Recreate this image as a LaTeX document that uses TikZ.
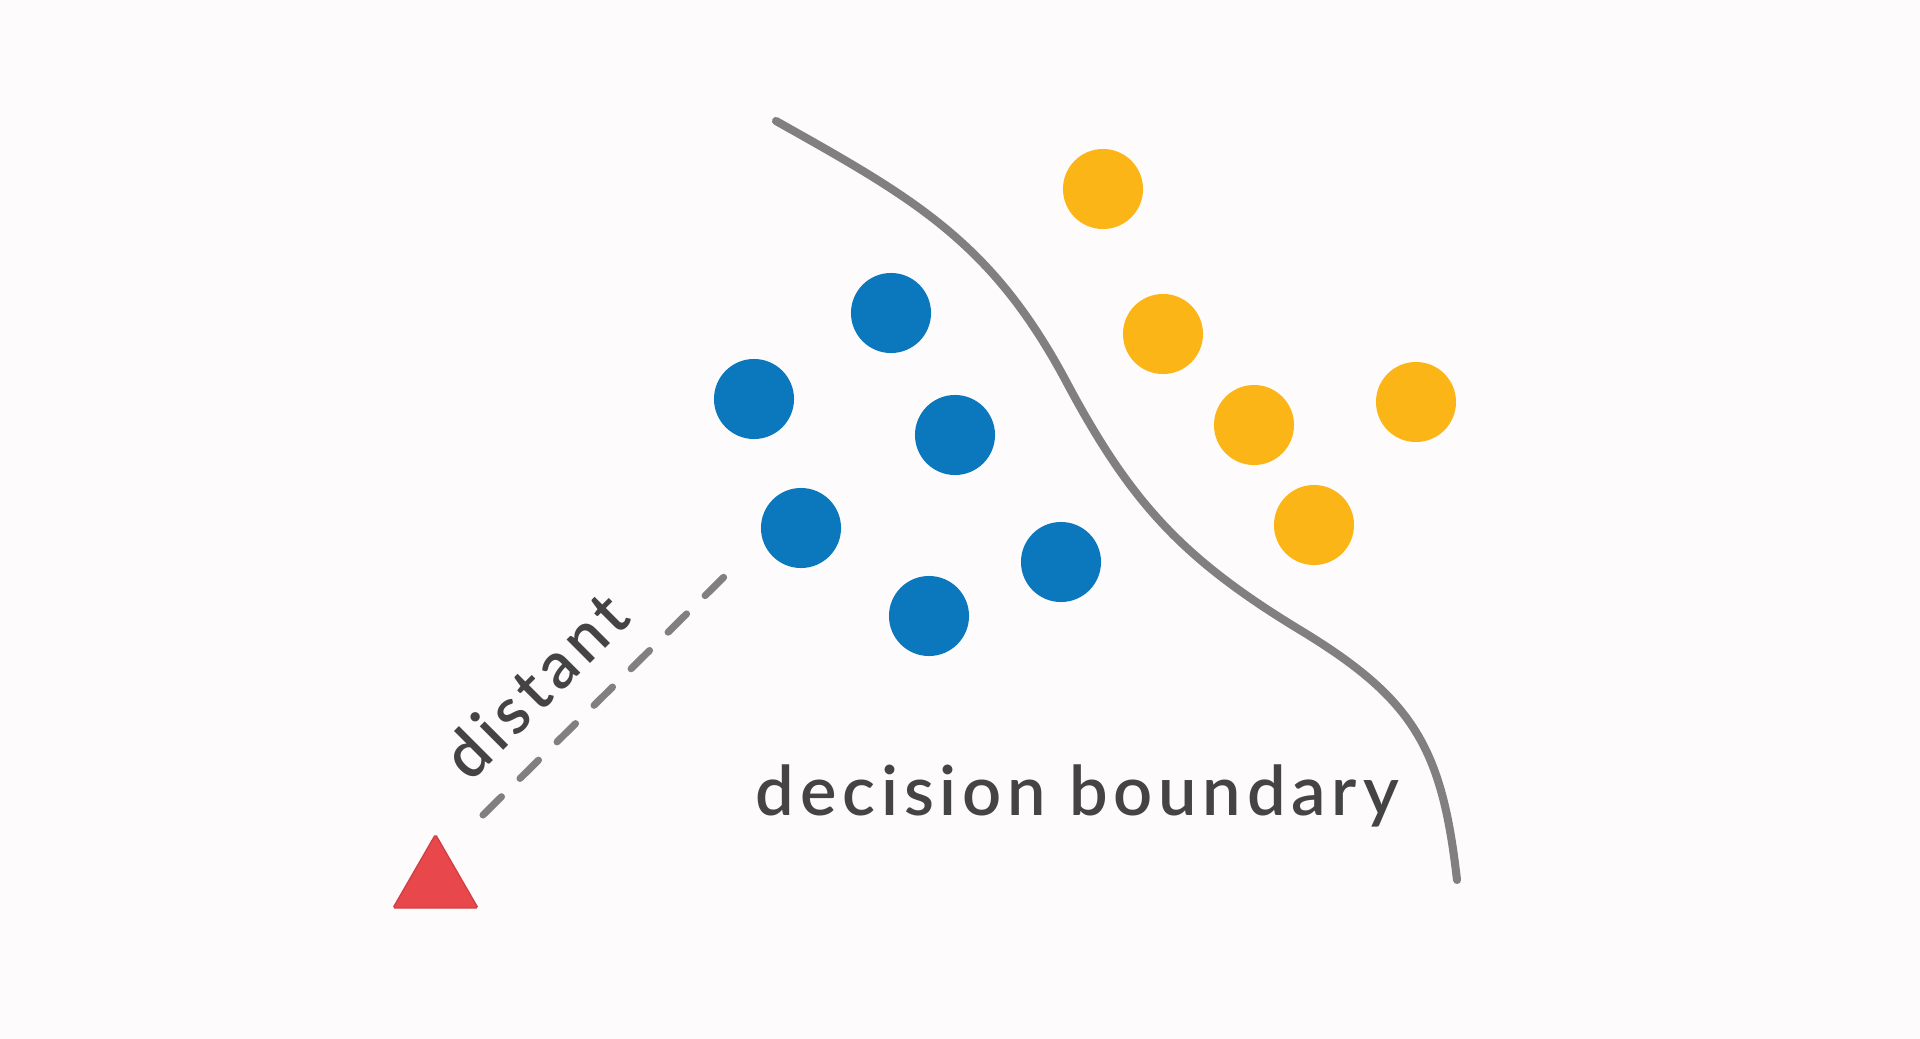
\documentclass[tikz,border=0pt]{standalone}
\usepackage{fontspec}
\usepackage{tikz}
\usetikzlibrary{shapes.geometric,positioning}
\newfontfamily\labelfont[LetterSpace=8.5]{Lato Semibold}
\definecolor{bgcol}{RGB}{253,251,251}
\definecolor{ptblue}{RGB}{11,120,189}
\definecolor{ptgold}{RGB}{252,181,22}
\definecolor{farred}{RGB}{232,71,76}
\definecolor{curvegray}{RGB}{128,128,128}
\definecolor{textgray}{RGB}{68,68,68}

\begin{document}
\begin{tikzpicture}[x=0.01cm, y=-0.01cm,
    blue pt/.style={circle, fill=ptblue, minimum size=0.8cm, inner sep=0pt},
    gold pt/.style={circle, fill=ptgold, minimum size=0.8cm, inner sep=0pt},
    far pt/.style={regular polygon, regular polygon sides=3, fill=farred, draw=farred!90!black, line width=0.4pt, rounded corners=0.5pt, minimum size=0.98cm, inner sep=0pt},
    boundary/.style={draw=curvegray, line width=2.3pt, line cap=round},
    gap line/.style={draw=curvegray, line width=2pt, line cap=round, dash pattern=on 0.26cm off 0.26cm},
    label text/.style={text=textgray, font=\labelfont\fontsize{19.5pt}{24pt}\selectfont, inner sep=0pt}]
    \fill[bgcol] (0,0) rectangle (1920,1039);
    \useasboundingbox (0,0) rectangle (1920,1039);

    % decision boundary
    \draw[boundary] (776,121) .. controls (915,199) and (992,242) .. (1067,383)
        .. controls (1131,503) and (1183,559) .. (1300,630)
        .. controls (1414,699) and (1442,748) .. (1457,880);

    % class A
    \node[blue pt] (b1) at (891,313) {};
    \node[blue pt] (b2) at (754,399) {};
    \node[blue pt] (b3) at (955,435) {};
    \node[blue pt] (b4) at (801,528) {};
    \node[blue pt] (b5) at (1061,562) {};
    \node[blue pt] (b6) at (929,616) {};

    % class B
    \node[gold pt] (g1) at (1103,189) {};
    \node[gold pt] (g2) at (1163,334) {};
    \node[gold pt] (g3) at (1254,425) {};
    \node[gold pt] (g4) at (1416,402) {};
    \node[gold pt] (g5) at (1314,525) {};

    % outlier
    \node[far pt] (far) at (435.5,883.5) {};
    \coordinate (gap start) at (483,815);
    \coordinate (gap end) at (728,573);
    \draw[gap line] (gap start) -- (gap end);

    \node[label text, font=\labelfont\fontsize{18.5pt}{22pt}\selectfont, anchor=base west, rotate=45] (dist) at (470,784) {distant};
    \node[label text, anchor=base west] (db) at (755,815) {decision boundary};
\end{tikzpicture}
\end{document}
